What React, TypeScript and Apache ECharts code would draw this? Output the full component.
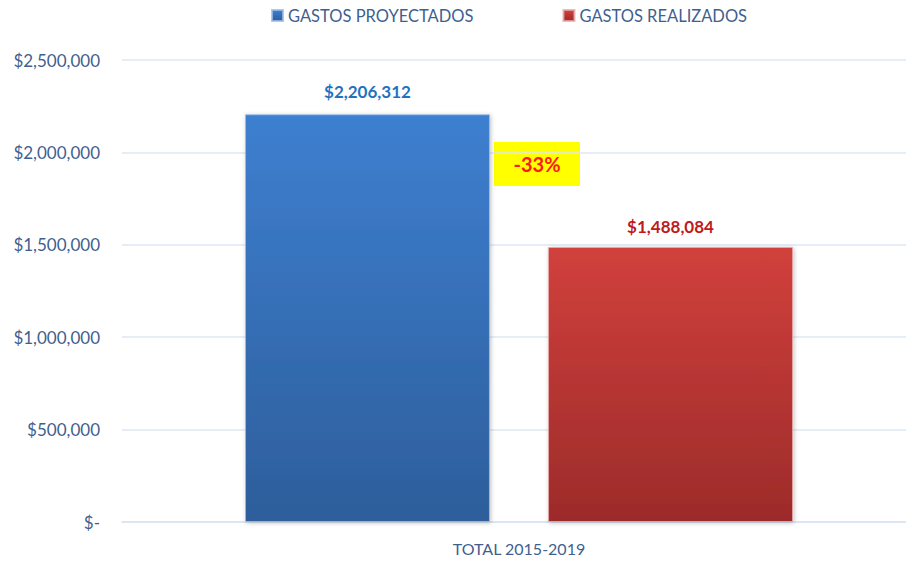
import React, { useEffect, useRef } from "react";
import * as echarts from "echarts";

const categories = ["TOTAL 2015-2019"];
const seriesNames = ["GASTOS PROYECTADOS", "GASTOS REALIZADOS"];
const projected = [2206312];
const realized = [1488084];
const yTicks = [0, 500000, 1000000, 1500000, 2000000, 2500000];
const changeLabel = "-33%";

const FONT = "Lato, 'Open Sans', sans-serif";
const AXIS_COLOR = "#3f5f8f";

function fmt(v: number) {
  if (v === 0) return "$-";
  return "$" + v.toLocaleString("en-US");
}

export default function App() {
  const ref = useRef<HTMLDivElement>(null);
  useEffect(() => {
    const chart = echarts.init(ref.current!, null, { renderer: "svg" });
    chart.setOption({
      animation: false,
      backgroundColor: "#ffffff",
      textStyle: { fontFamily: FONT },
      legend: {
        top: 2,
        left: 266,
        itemWidth: 11,
        itemHeight: 11,
        itemGap: 89,
        icon: "rect",
        textStyle: { color: AXIS_COLOR, fontSize: 16.5, fontFamily: FONT },
        data: seriesNames,
      },
      grid: {
        left: 122,
        top: 60,
        width: 794,
        height: 462,
        outerBoundsMode: "none",
        containLabel: false,
      },
      xAxis: {
        type: "category",
        data: categories,
        axisLine: { show: true, lineStyle: { color: "#d9e3f0", width: 1.5 } },
        axisTick: { show: false },
        axisLabel: { color: AXIS_COLOR, fontSize: 16, margin: 18, fontFamily: FONT },
      },
      yAxis: {
        type: "value",
        min: yTicks[0],
        max: yTicks[yTicks.length - 1],
        interval: yTicks[1] - yTicks[0],
        axisLine: { show: false },
        axisTick: { show: false },
        splitLine: { lineStyle: { color: "#dde7f3", width: 1.5 } },
        axisLabel: {
          color: AXIS_COLOR,
          fontSize: 17,
          margin: 22,
          fontFamily: FONT,
          formatter: (v: number) => fmt(v),
        },
      },
      series: [
        {
          name: seriesNames[0],
          type: "bar",
          data: projected,
          barWidth: 245,
          barGap: "23.7%",
          itemStyle: {
            color: new echarts.graphic.LinearGradient(0, 0, 0, 1, [
              { offset: 0, color: "#3e7fd0" },
              { offset: 1, color: "#2d5e9b" },
            ]),
            borderColor: "rgba(160,190,230,0.8)",
            borderWidth: 1,
            shadowColor: "rgba(0,0,0,0.25)",
            shadowBlur: 4,
            shadowOffsetX: 1,
            shadowOffsetY: 1,
          },
          label: {
            show: true,
            position: "top",
            distance: 14,
            color: "#1f72c2",
            fontWeight: "bold",
            fontSize: 17,
            fontFamily: FONT,
            formatter: (p: any) => fmt(p.value),
          },
        },
        {
          name: seriesNames[1],
          type: "bar",
          data: realized,
          barWidth: 245,
          itemStyle: {
            color: new echarts.graphic.LinearGradient(0, 0, 0, 1, [
              { offset: 0, color: "#d1403c" },
              { offset: 1, color: "#9c2b2a" },
            ]),
            borderColor: "rgba(230,170,170,0.8)",
            borderWidth: 1,
            shadowColor: "rgba(0,0,0,0.25)",
            shadowBlur: 4,
            shadowOffsetX: 1,
            shadowOffsetY: 1,
          },
          label: {
            show: true,
            position: "top",
            distance: 12,
            color: "#c0181b",
            fontWeight: "bold",
            fontSize: 17,
            fontFamily: FONT,
            formatter: (p: any) => fmt(p.value),
          },
        },
      ],
      graphic: [
        {
          type: "group",
          left: 494,
          top: 142,
          children: [
            {
              type: "rect",
              shape: { x: 0, y: 0, width: 86, height: 44 },
              style: { fill: "#ffff00" },
            },
            {
              type: "text",
              x: 43,
              y: 22,
              style: {
                text: changeLabel,
                fill: "#ff1a1a",
                font: "bold 20px " + FONT,
                align: "center",
                verticalAlign: "middle",
              },
            },
          ],
        },
      ],
    });
    return () => chart.dispose();
  }, []);
  return (
    <div
      ref={ref}
      style={{ position: "fixed", left: 0, top: 0, width: 906, height: 561 }}
    />
  );
}
